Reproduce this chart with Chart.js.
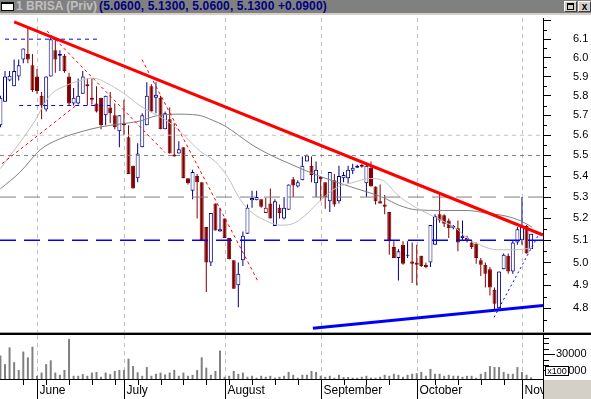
<!DOCTYPE html>
<html>
<head>
<meta charset="utf-8">
<script src="https://cdn.jsdelivr.net/npm/chart.js@4.4.1/dist/chart.umd.min.js"></script>
<style>
  html, body { margin: 0; padding: 0; background: #fff; }
  #wrap { position: relative; width: 591px; height: 399px; overflow: hidden; font-family: "Liberation Sans", Arial, sans-serif; }
  #wrap > * { position: absolute; }
  #titlebar { left: 0; top: 0; width: 591px; height: 13px; background: #808080; border-bottom: 2px solid #d4d0c8; }
  #icon { left: 1px; top: 2px; width: 11px; height: 6px; background: #fff; border: 1px solid #000; border-top-width: 2px; }
  #name, #quote { top: 0; font-weight: bold; font-size: 12px; line-height: 13px; white-space: nowrap; }
  #name { left: 16px; color: #c0c0c0; }
  #quote { left: 99px; color: #000080; letter-spacing: 0.15px; }
  .btn { top: 1px; width: 11px; height: 9px; background: #d4d0c8; border: 1px solid; border-color: #fff #404040 #404040 #fff; font: bold 10px/9px "Liberation Sans", Arial, sans-serif; text-align: center; color: #000; }
  #btnMax { left: 564px; }
  #btnMax span { position: absolute; left: 2px; top: 1px; width: 5px; height: 4px; border: 1px solid #000; border-top-width: 2px; }
  #btnClose { left: 578px; }
  #priceChart { left: 0; top: 16px; }
  #sepA { left: 0; top: 332px; width: 591px; height: 1px; background: #a0a0a0; }
  #sepB { left: 0; top: 333px; width: 591px; height: 2px; background: #000; }
  #volChart { left: 0; top: 335px; }
  #corner { left: 543px; top: 380px; width: 48px; height: 19px; background: #d4d0c8; border-left: 1px solid #000; }
</style>
</head>
<body>
<div id="wrap">
  <div id="titlebar"></div>
  <div id="icon"></div>
  <div id="name">1 BRISA (Priv)</div>
  <div id="quote"></div>
  <div class="btn" id="btnMax"><span></span></div>
  <div class="btn" id="btnClose">x</div>
  <canvas id="priceChart" width="591" height="316"></canvas>
  <div id="sepA"></div>
  <div id="sepB"></div>
  <canvas id="volChart" width="591" height="64"></canvas>
  <div id="corner"></div>
</div>
<script>
// daily candles, one entry per trading day
var opens  = [5.65,5.77,5.88,5.85,5.90,5.99,6.02,5.96,5.90,5.80,5.73,5.90,6.04,6.01,6.01,5.90,5.76,5.76,5.81,5.86,
              5.78,5.76,5.79,5.70,5.74,5.70,5.62,5.66,5.59,5.45,5.39,5.54,5.65,5.85,5.79,5.79,5.63,5.68,5.495,5.51,
              5.54,5.39,5.33,5.40,5.37,5.16,5.00,5.27,5.14,5.20,5.11,5.01,4.90,5.01,5.13,5.285,5.285,5.29,5.225,5.27,
              5.165,5.25,5.20,5.24,5.385,5.35,5.38,5.47,5.45,5.365,5.395,5.37,5.28,5.38,5.28,5.39,5.39,5.425,5.44,5.455,
              5.365,5.44,5.35,5.28,5.265,5.23,5.07,5.02,5.08,5.035,5.005,5.00,5.03,4.99,5.00,5.08,5.22,5.215,5.19,5.155,
              5.155,5.11,5.10,5.09,5.085,5.01,4.99,4.97,4.88,4.80,4.97,5.03,4.96,5.09,5.10,5.165,5.06];
var highs  = [5.80,5.93,5.93,5.99,5.99,6.05,6.17,6.02,5.94,5.82,5.90,6.11,6.10,6.04,6.02,5.92,5.84,5.89,5.93,5.89,
              5.89,5.85,5.79,5.80,5.82,5.76,5.70,5.78,5.65,5.45,5.56,5.71,5.87,5.86,5.87,5.80,5.72,5.74,5.66,5.57,
              5.54,5.39,5.43,5.41,5.37,5.16,5.225,5.27,5.25,5.20,5.11,5.01,5.00,5.14,5.265,5.33,5.33,5.29,5.295,5.34,
              5.29,5.265,5.30,5.36,5.395,5.38,5.495,5.505,5.495,5.47,5.40,5.37,5.42,5.41,5.45,5.42,5.45,5.46,5.455,5.46,
              5.465,5.47,5.35,5.36,5.31,5.23,5.095,5.06,5.095,5.095,5.09,5.08,5.03,5.00,5.17,5.22,5.31,5.22,5.20,5.17,
              5.19,5.19,5.12,5.10,5.09,5.02,5.00,4.98,4.89,4.96,5.04,5.04,5.10,5.16,5.30,5.17,5.13];
var lows   = [5.64,5.77,5.875,5.85,5.88,5.97,5.97,5.82,5.81,5.68,5.72,5.90,5.92,5.93,5.92,5.75,5.75,5.755,5.81,5.75,
              5.755,5.715,5.63,5.65,5.66,5.63,5.54,5.60,5.41,5.34,5.37,5.54,5.65,5.72,5.71,5.63,5.63,5.51,5.495,5.51,
              5.39,5.36,5.29,5.20,5.10,4.87,4.985,5.145,5.14,5.11,5.015,4.885,4.805,4.985,5.13,5.25,5.285,5.25,5.225,5.20,
              5.165,5.20,5.195,5.24,5.30,5.345,5.38,5.47,5.37,5.30,5.28,5.245,5.23,5.255,5.27,5.37,5.365,5.41,5.44,5.44,
              5.30,5.35,5.265,5.27,5.22,5.035,5.02,4.92,4.99,5.02,4.91,4.90,4.98,4.975,4.98,5.08,5.18,5.16,5.11,5.15,
              5.05,5.10,5.09,5.06,4.995,4.94,4.89,4.855,4.795,4.80,4.97,4.95,4.95,5.08,5.08,5.04,5.06];
var closes = [5.79,5.90,5.905,5.93,5.96,6.05,5.99,5.83,5.825,5.75,5.90,6.10,5.99,6.02,5.93,5.76,5.79,5.80,5.90,5.85,
              5.79,5.72,5.65,5.80,5.71,5.64,5.70,5.65,5.41,5.34,5.51,5.70,5.80,5.72,5.805,5.63,5.71,5.51,5.505,5.53,
              5.39,5.365,5.42,5.37,5.10,5.00,5.225,5.145,5.15,5.11,5.015,4.885,4.95,5.12,5.25,5.295,5.30,5.255,5.25,5.20,
              5.28,5.225,5.25,5.36,5.355,5.37,5.45,5.50,5.405,5.43,5.385,5.30,5.42,5.265,5.40,5.405,5.43,5.44,5.45,5.445,
              5.45,5.35,5.28,5.27,5.255,5.095,5.02,5.05,4.995,5.03,4.995,4.99,4.985,4.98,5.17,5.21,5.19,5.175,5.155,5.165,
              5.09,5.12,5.11,5.07,5.02,4.99,4.95,4.89,4.82,4.96,5.035,4.96,5.09,5.15,5.16,5.04,5.13];
var volumes = [28600,18000,38400,20400,11000,33300,26300,39200,3900,7800,18000,22700,7800,5100,11000,48600,3900,3900,5900,3900,
               7800,8600,2700,7800,5900,9800,11000,11000,24700,15700,8200,3900,14500,3900,6300,7800,5500,7800,11000,3900,
               7800,3900,5100,11000,26300,13700,5100,9800,34500,2700,3900,9800,6300,7800,2700,3900,1600,3900,2700,3900,
               1600,2700,3900,8600,5100,1600,5100,5100,9800,8600,3900,2700,3900,1600,5100,2400,2400,1600,1600,2700,
               3900,1600,1600,2700,5100,3900,6300,5100,2700,5100,6300,7000,8600,3900,12200,6300,6300,3900,5100,3900,
               3900,2700,3900,3900,1600,6300,8600,15700,14500,14500,8600,6300,6300,14500,8600,5100,2000];

// moving averages (day index, price)
var fastMaIdx = [0,7.1,10.8,14.6,18,20.2,24,27.7,30.5,33.1,36.6,40.1,43.6,46.9,49.7,52.4,55,57.8,61.1,63.7,
                 66.6,69.9,73.6,77.1,80.8,83.6,86.9,90,94.6,97.2,99.8,102,104.8,108.5,112.5,116.2];
var fastMaVal = [5.436,5.656,5.80,5.856,5.882,5.892,5.856,5.80,5.749,5.714,5.669,5.60,5.521,5.472,5.395,5.289,5.227,5.192,5.169,5.174,
                 5.214,5.284,5.346,5.369,5.388,5.379,5.308,5.261,5.21,5.183,5.151,5.11,5.079,5.057,5.057,5.065];
var slowMaIdx = [0,4.3,8.7,13,17.4,21.8,26.1,30.5,33.8,38.2,43.2,46.3,49.1,51.9,55,58.5,63.3,69.9,76.4,83.6,
                 87.3,91,96.7,102,106.4,110.7,113.6,116.2];
var slowMaVal = [5.339,5.419,5.528,5.582,5.616,5.641,5.656,5.671,5.696,5.706,5.701,5.676,5.646,5.602,5.552,5.508,5.459,5.398,5.35,5.298,
                 5.26,5.24,5.237,5.237,5.224,5.21,5.19,5.16];

// drawn studies: start and end points (day index, price)
var resistIdx = [3, 118.6],     resistVal = [6.194, 5.124];
var supportIdx = [68.3, 118.6], supportVal = [4.716, 4.812];
var steepIdx = [30.95, 56.3],   steepVal = [5.99, 4.917];
var fanIdx = [10.2, 36],        fanVal = [6.145, 5.514];
var riseIdx = [0.35, 16.3],     riseVal = [5.46, 5.746];
var lateIdx = [107.9, 117.9],   lateVal = [4.762, 5.136];
var topBandIdx = [1, 21.1],     topBandVal = [6.1, 6.1];
var lowBandIdx = [4.1, 24],     lowBandVal = [5.75, 5.75];
var levelPrices = [5.6, 5.5, 5.3, 5.1];

// axes
var monthNames = ['June', 'July', 'August', 'September', 'October', 'Nov'];
var monthStarts = [8, 27, 49, 70, 91, 114];
var weekTicks = [5,10,15,20,25,30,35,40,45,50,55,60,65,75,80,85,95,100,105,110];
var priceLabels = [4.8,4.9,5.0,5.1,5.2,5.3,5.4,5.5,5.6,5.7,5.8,5.9,6.0,6.1,6.2];
var priceMinor = [4.75,4.85,4.95,5.05,5.15,5.25,5.35,5.45,5.55,5.65,5.75,5.85,5.95,6.05,6.15];
var volLabels = [10000, 30000];
var volMinor = [16667,23333,36667,43333,50000];

var X_MIN = -0.09, X_MAX = 118.6;
var Y_MIN = 4.711, Y_MAX = 6.216;
var VOL_MAX = 53400;

Chart.defaults.font.family = '"Liberation Sans", Arial, sans-serif';
Chart.defaults.color = '#000';

var last = opens.length - 1;
var change = closes[last] - closes[last - 1];
document.getElementById('quote').textContent = '(' + opens[last].toFixed(4) + ', ' + highs[last].toFixed(4) + ', ' +
    lows[last].toFixed(4) + ', ' + closes[last].toFixed(4) + ' ' + (change >= 0 ? '+' : '') + change.toFixed(4) + ')';

// candle colour: blue when close is up on the day before, red when down; hollow when close is above open
var candleColor = closes.map(function (c, i) { return (i === 0 || c >= closes[i - 1]) ? '#000080' : '#800000'; });
var bodyFill = closes.map(function (c, i) { return c > opens[i] ? '#ffffff' : candleColor[i]; });

function pts(xs, ys) {
    return xs.map(function (x, i) { return { x: x, y: ys[i] }; });
}
function lineSet(data, color, width, dash, order) {
    return { type: 'line', data: data, borderColor: color, borderWidth: width, borderDash: dash || [],
             pointRadius: 0, fill: false, order: order, borderCapStyle: 'butt' };
}

// colour, dash, width of the horizontal levels
var levelStyles = [['#c0c0c0', [4, 4], 1], ['#808080', [4, 4], 1], ['#808080', [16, 8], 1], ['#0000ff', [16, 8], 1.5]];

function monthLines(chart) {
    var ctx = chart.ctx, xs = chart.scales.x, area = chart.chartArea;
    ctx.save();
    ctx.strokeStyle = '#c0c0c0';
    ctx.lineWidth = 1;
    ctx.setLineDash([4, 4]);
    monthStarts.forEach(function (m) {
        var x = Math.round(xs.getPixelForValue(m)) + 0.5;
        ctx.beginPath();
        ctx.moveTo(x, area.top);
        ctx.lineTo(x, area.bottom);
        ctx.stroke();
    });
    ctx.restore();
}
function minorTicks(chart, values, len) {
    var ctx = chart.ctx, ys = chart.scales.y;
    ctx.save();
    ctx.strokeStyle = '#000';
    ctx.lineWidth = 1;
    values.forEach(function (v) {
        var y = Math.round(ys.getPixelForValue(v)) + 0.5;
        ctx.beginPath();
        ctx.moveTo(ys.left, y);
        ctx.lineTo(ys.left + len, y);
        ctx.stroke();
    });
    ctx.restore();
}

var xAxis = { type: 'linear', display: false, offset: false, min: X_MIN, max: X_MAX, grid: { offset: false } };

// price panel
var levelSets = levelPrices.map(function (p, i) {
    return lineSet(pts([X_MIN, X_MAX], [p, p]), levelStyles[i][0], levelStyles[i][2], levelStyles[i][1], 3);
});
var idx = opens.map(function (_, i) { return i; });

new Chart(document.getElementById('priceChart'), {
    type: 'bar',
    data: {
        datasets: levelSets.concat([
            lineSet(pts(resistIdx, resistVal), '#ff0000', 3, null, 1),
            lineSet(pts(supportIdx, supportVal), '#0000ff', 3, null, 1),
            lineSet(pts(steepIdx, steepVal), '#ff0000', 1, [3, 3], 2),
            lineSet(pts(fanIdx, fanVal), '#ff0000', 1, [3, 3], 2),
            lineSet(pts(riseIdx, riseVal), '#ff0000', 1, [3, 3], 2),
            lineSet(pts(lateIdx, lateVal), '#0000ff', 1, [2, 3], 2),
            lineSet(pts(topBandIdx, topBandVal), '#0000ff', 1, [4, 4], 2),
            lineSet(pts(lowBandIdx, lowBandVal), '#0000ff', 1, [4, 4], 2),
            Object.assign(lineSet(pts(fastMaIdx, fastMaVal), '#c0c0c0', 1, null, 4), { cubicInterpolationMode: 'monotone' }),
            Object.assign(lineSet(pts(slowMaIdx, slowMaVal), '#808080', 1, null, 4), { cubicInterpolationMode: 'monotone' }),
            {
                type: 'bar', order: 5, grouped: false, barThickness: 4, borderWidth: 1, borderSkipped: false, inflateAmount: 0,
                data: idx.map(function (i) { return { x: i, y: [opens[i], closes[i]] }; }),
                backgroundColor: bodyFill, borderColor: candleColor
            },
            {
                type: 'bar', order: 6, grouped: false, barThickness: 1, borderWidth: 0, inflateAmount: 0,
                data: idx.map(function (i) { return { x: i, y: [lows[i], highs[i]] }; }),
                backgroundColor: candleColor
            }
        ])
    },
    options: {
        responsive: false, animation: false, devicePixelRatio: 1, events: [],
        layout: { padding: { left: 0, right: 3, top: 2, bottom: 0 } },
        plugins: { legend: { display: false }, tooltip: { enabled: false } },
        scales: {
            x: xAxis,
            y: {
                type: 'logarithmic', position: 'right', min: Y_MIN, max: Y_MAX,
                afterBuildTicks: function (s) { s.ticks = priceLabels.map(function (v) { return { value: v }; }); },
                afterFit: function (s) { s.width = 45; s.paddingTop = 0; s.paddingBottom = 0; },
                ticks: {
                    autoSkip: false, padding: 22, font: { size: 11 }, color: '#000',
                    callback: function (v) { return v > 6.15 ? '' : v.toFixed(1); }
                },
                grid: { drawOnChartArea: false, tickLength: 8, tickColor: '#000', color: '#000' },
                border: { display: true, color: '#000' }
            }
        }
    },
    plugins: [{
        id: 'priceDecor',
        beforeDatasetsDraw: function (chart) { monthLines(chart); },
        afterDraw: function (chart) { minorTicks(chart, priceMinor, 4); }
    }]
});

// volume panel
new Chart(document.getElementById('volChart'), {
    type: 'bar',
    data: {
        datasets: [{
            data: idx.map(function (i) { return { x: i, y: volumes[i] }; }),
            backgroundColor: '#808080', barThickness: 2, grouped: false, inflateAmount: 0
        }]
    },
    options: {
        responsive: false, animation: false, devicePixelRatio: 1, events: [],
        layout: { padding: { left: 0, right: 3, top: 0, bottom: 20 } },
        plugins: { legend: { display: false }, tooltip: { enabled: false } },
        scales: {
            x: xAxis,
            y: {
                position: 'right', min: 0, max: VOL_MAX,
                afterBuildTicks: function (s) { s.ticks = volLabels.map(function (v) { return { value: v }; }); },
                afterFit: function (s) { s.width = 45; s.paddingTop = 0; s.paddingBottom = 0; },
                ticks: { autoSkip: false, padding: 1, font: { size: 11 }, color: '#000', callback: function (v) { return String(v); } },
                grid: { drawOnChartArea: false, tickLength: 12, tickColor: '#000', color: '#000' },
                border: { display: true, color: '#000' }
            }
        }
    },
    plugins: [{
        id: 'volDecor',
        beforeDatasetsDraw: function (chart) { monthLines(chart); },
        afterDraw: function (chart) {
            var ctx = chart.ctx, xs = chart.scales.x, ys = chart.scales.y, area = chart.chartArea;
            var h = chart.height;
            minorTicks(chart, volMinor, 6);
            ctx.save();
            ctx.strokeStyle = '#000';
            ctx.lineWidth = 1;
            ctx.beginPath();
            ctx.moveTo(0, area.bottom + 0.5);
            ctx.lineTo(area.right, area.bottom + 0.5);
            ctx.stroke();
            weekTicks.forEach(function (w) {
                var x = Math.round(xs.getPixelForValue(w)) + 0.5;
                ctx.beginPath();
                ctx.moveTo(x, area.bottom);
                ctx.lineTo(x, area.bottom + 6);
                ctx.stroke();
            });
            ctx.font = '12px "Liberation Sans", Arial, sans-serif';
            ctx.fillStyle = '#000';
            ctx.textBaseline = 'middle';
            monthStarts.forEach(function (m, i) {
                var x = Math.round(xs.getPixelForValue(m)) + 0.5;
                ctx.beginPath();
                ctx.moveTo(x, area.bottom);
                ctx.lineTo(x, h);
                ctx.stroke();
                ctx.fillText(monthNames[i], x + 2, area.bottom + 12);
            });
            // x100 multiplier box over the lower volume label
            var yb = Math.round(ys.getPixelForValue(volLabels[0]));
            ctx.fillStyle = '#fff';
            ctx.fillRect(ys.left + 2, yb - 5, 24, 10);
            ctx.strokeRect(ys.left + 2.5, yb - 4.5, 23, 9);
            ctx.fillStyle = '#000';
            ctx.font = '9px "Liberation Sans", Arial, sans-serif';
            ctx.textAlign = 'center';
            ctx.fillText('x100', ys.left + 14, yb + 0.5);
            ctx.restore();
        }
    }]
});
</script>
</body>
</html>
